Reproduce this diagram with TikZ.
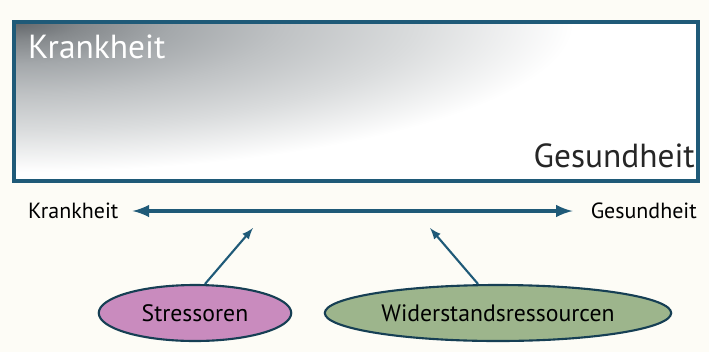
\documentclass[tikz,border=0pt]{standalone}
\usepackage{fontspec}
\setmainfont{PT Sans}
\usepackage{tikz}
\usetikzlibrary{calc, positioning, shapes.geometric}

\definecolor{rahmen}{HTML}{1F5A78}
\definecolor{hgrund}{HTML}{FDFCF6}
\definecolor{rosa}{HTML}{C98BBE}
\definecolor{gruen}{HTML}{9DB58C}
\definecolor{dunkel}{HTML}{62666A}
\definecolor{grau1}{HTML}{85898C}
\definecolor{grau2}{HTML}{A4A8AB}
\definecolor{grau3}{HTML}{BFC2C4}
\definecolor{grau4}{HTML}{DADCDD}
\pgfdeclareradialshading{ecke}{\pgfpoint{0bp}{0bp}}{color(0bp)=(dunkel); color(3bp)=(grau1); color(7bp)=(grau2); color(12bp)=(grau3); color(18bp)=(grau4); color(25bp)=(white); color(50bp)=(white)}

\tikzset{
  oval/.style={ellipse, draw=rahmen!70!black, line width=1.2pt, minimum height=1.12cm, font=\fontsize{13.5}{15}\selectfont, text=black},
  achse/.style={draw=rahmen, line width=2.2pt},
  pfeil/.style={draw=rahmen, line width=1.2pt}
}

\begin{document}
\begin{tikzpicture}[>=latex, x=0.2mm, y=-0.2mm]
  \fill [hgrund] (0,0) rectangle (709,352);
  \useasboundingbox (0,0) rectangle (709,352);
  % Kasten oben
  \begin{scope}
    \clip (14,22) rectangle (698,181);
    \fill [white] (14,22) rectangle (698,181);
    \shade [shading=ecke] (14,22) ellipse [x radius=560, y radius=150];
  \end{scope}
  \draw [rahmen, line width=2.4pt] (14,22) rectangle (698,181);
  \node (krank) at (22,47) [anchor=west, text=white, font=\fontsize{19}{21}\selectfont] {Krankheit};
  \node (gesund) at (701,156) [anchor=east, text=black!85, font=\fontsize{19}{21}\selectfont] {Gesundheit};
  % Achse
  \node (links) at (22,211) [anchor=west, font=\fontsize{12.5}{14}\selectfont] {Krankheit};
  \node (rechts) at (703,211) [anchor=east, font=\fontsize{12.5}{14}\selectfont] {Gesundheit};
  \draw [achse, <->] ($(links.east)+(8,0)$) -- ($(rechts.west)+(-12,0)$);
  % Einfluesse
  \node (stress) at (195,313) [oval, fill=rosa, minimum width=3.85cm] {Stressoren};
  \node (wider) at (498,313) [oval, fill=gruen, minimum width=5.85cm] {Widerstandsressourcen};
  \coordinate (s) at (253,228);
  \coordinate (w) at (430,228);
  \draw [pfeil, ->] ($(stress.north)+(10,0)$) -- (s);
  \draw [pfeil, ->] ($(wider.north)+(-20,0)$) -- (w);
\end{tikzpicture}
\end{document}
